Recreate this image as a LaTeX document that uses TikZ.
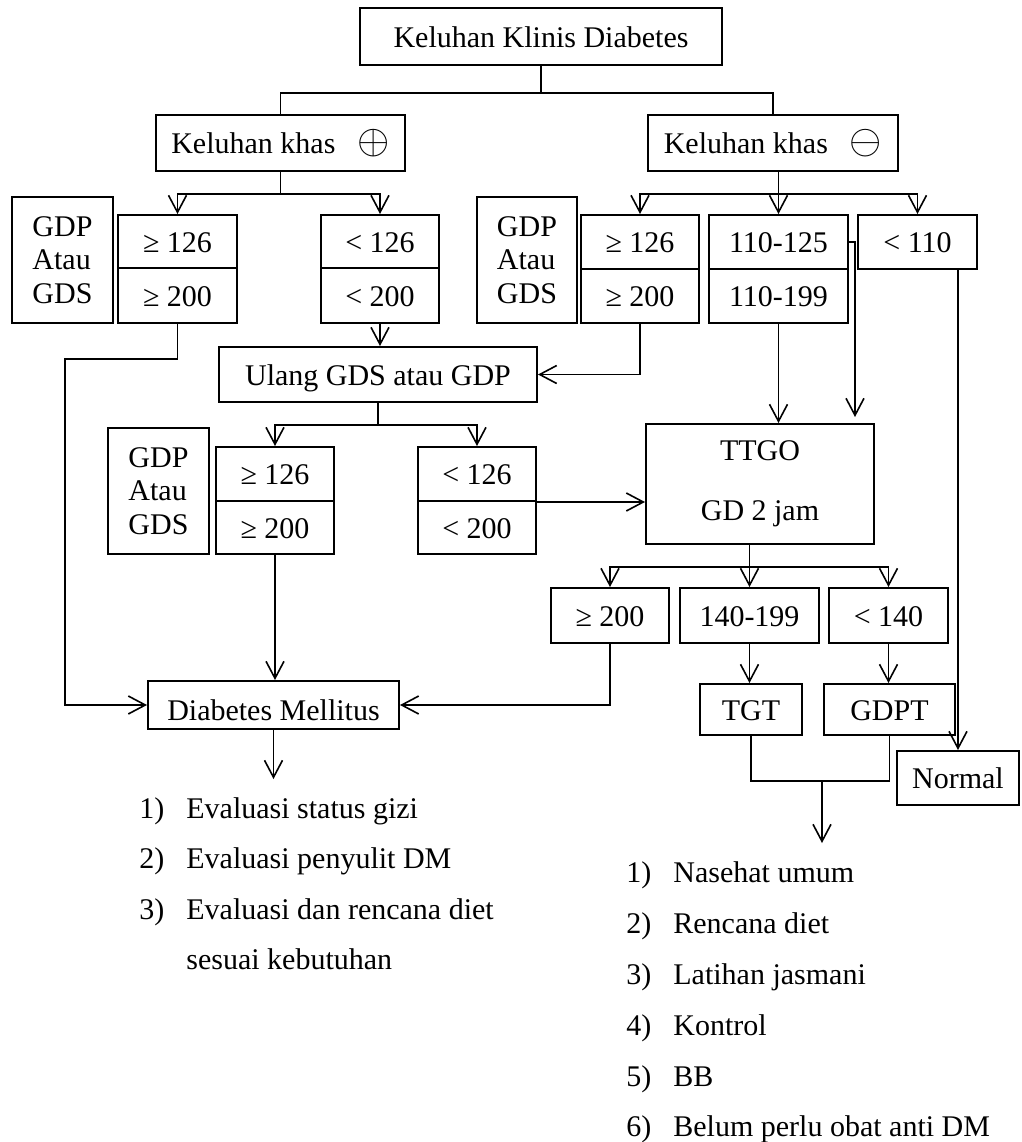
\documentclass[tikz,border=0pt]{standalone}
\usepackage{fontspec}
\setmainfont{Liberation Serif}
\usetikzlibrary{arrows.meta}
\newcommand{\numbox}[1]{\makebox[23.5pt][l]{#1}}
\newcommand{\circsym}[1]{{\fontsize{21}{21}\selectfont$#1$}}

\begin{document}
\begin{tikzpicture}[x=0.5pt, y=-0.5pt,
  >={Straight Barb[length=8.5pt,width=9pt]},
  font=\fontsize{15}{18}\selectfont,
  box/.style={draw, line width=1pt, inner sep=0pt, align=center},
  sbox/.style={box, text height=10.5pt, text depth=0pt},
  gdpbox/.style={box, align=left, minimum width=50.5pt, minimum height=63pt,
    font=\fontsize{15}{16.75}\selectfont},
  conn/.style={line width=0.8pt},
  arr/.style={conn, ->},
  item/.style={anchor=base west, inner sep=0pt}]
  \useasboundingbox (0,0) rectangle (1022,1142);

  \node[sbox, minimum width=181pt, minimum height=28.5pt] (top) at (541,36.5) {Keluhan Klinis Diabetes};
  \node[sbox, minimum width=124.5pt, minimum height=28pt] (khasP) at (280.5,143) {Keluhan khas\hspace{11pt}\circsym{\oplus}};
  \node[sbox, minimum width=125pt, minimum height=28pt] (khasN) at (773,143) {Keluhan khas\hspace{11pt}\circsym{\ominus}};

  % keluhan khas positif
  \node[gdpbox] (gdp1) at (62.5,260) {GDP\\Atau\\GDS};
  \node[sbox, minimum width=59.5pt, minimum height=26.5pt] (a1t) at (177.5,241.5) {≥ 126};
  \node[sbox, minimum width=59.5pt, minimum height=27.5pt] (a1b) at (177.5,295.5) {≥ 200};
  \node[sbox, minimum width=59pt, minimum height=26.5pt] (b1t) at (380,241.5) {< 126};
  \node[sbox, minimum width=59pt, minimum height=27.5pt] (b1b) at (380,295.5) {< 200};

  % keluhan khas negatif
  \node[gdpbox, minimum width=50pt] (gdp2) at (527,260) {GDP\\Atau\\GDS};
  \node[sbox, minimum width=59pt, minimum height=27pt] (a2t) at (640,242) {≥ 126};
  \node[sbox, minimum width=59pt, minimum height=27pt] (a2b) at (640,296) {≥ 200};
  \node[sbox, minimum width=69.5pt, minimum height=27pt] (c2t) at (778.5,242) {110-125};
  \node[sbox, minimum width=69.5pt, minimum height=27pt] (c2b) at (778.5,296) {110-199};
  \node[sbox, minimum width=59.5pt, minimum height=27pt] (d2) at (917.5,242) {< 110};

  % ulang
  \node[sbox, minimum width=159pt, minimum height=27.5pt] (ulang) at (378,374.5) {Ulang GDS atau GDP};
  \node[gdpbox] (gdp3) at (158.5,491) {GDP\\Atau\\GDS};
  \node[sbox, minimum width=59pt, minimum height=27pt] (a3t) at (275,474) {≥ 126};
  \node[sbox, minimum width=59pt, minimum height=26.5pt] (a3b) at (275,527.5) {≥ 200};
  \node[sbox, minimum width=59pt, minimum height=27pt] (b3t) at (477,474) {< 126};
  \node[sbox, minimum width=59pt, minimum height=26.5pt] (b3b) at (477,527.5) {< 200};

  % TTGO
  \node[box, minimum width=114pt, minimum height=60pt] (ttgo) at (760,484) {TTGO\\[12pt]GD 2 jam};
  \node[sbox, minimum width=59pt, minimum height=27.5pt] (g200) at (610,615.5) {≥ 200};
  \node[sbox, minimum width=69.5pt, minimum height=27.5pt] (g140) at (749.5,615.5) {140-199};
  \node[sbox, minimum width=59.5pt, minimum height=27.5pt] (l140) at (888.5,615.5) {< 140};
  \node[sbox, minimum width=51pt, minimum height=25.5pt] (tgt) at (751,709.5) {TGT};
  \node[sbox, minimum width=65.5pt, minimum height=25.5pt] (gdpt) at (889.5,709.5) {GDPT};
  \node[sbox, minimum width=61pt, minimum height=27pt] (normal) at (958,778) {Normal};
  \node[sbox, minimum width=125.5pt, minimum height=24pt, text height=15pt] (dm) at (273.5,705) {Diabetes Mellitus};

  % connectors
  \coordinate (j0) at (541,93);
  \draw[conn] (top.south) -- (j0);
  \draw[conn] (khasP.north) |- (j0) -| (khasN.north);
  \draw[conn] (khasP.south) -- ++(0,22) coordinate (j1);
  \draw[arr] (j1) -| (a1t.north);
  \draw[arr] (j1) -| (b1t.north);
  \draw[conn] (c2t.north |- khasN.south) -- ++(0,22) coordinate (j2);
  \draw[arr] (j2) -| (a2t.north);
  \draw[arr] (j2) -- (c2t.north);
  \draw[arr] (j2) -| (d2.north);

  \draw[arr] (a1b.south) |- (65,359) |- (dm.west);
  \draw[arr] (b1b.south) -- (b1b.south |- ulang.north);
  \draw[arr] (a2b.south) |- (ulang.east);
  \draw[conn] (ulang.south) -- ++(0,22) coordinate (j3);
  \draw[arr] (j3) -| (a3t.north);
  \draw[arr] (j3) -| (b3t.north);
  \draw[arr] (a3b.south) -- (a3b.south |- dm.north);
  \draw[arr] (b3t.south east) -- (b3t.south east -| ttgo.west);
  \draw[arr] (c2b.south) -- (c2b.south |- ttgo.north);
  \coordinate (k1) at (855,417);
  \draw[arr] (c2t.east) -| (k1);
  \draw[arr] (normal.north |- d2.south) -- (normal.north);

  \draw[conn] (g140.north |- ttgo.south) -- ++(0,22) coordinate (j4);
  \draw[arr] (j4) -| (g200.north);
  \draw[arr] (j4) -- (g140.north);
  \draw[arr] (j4) -| (l140.north);
  \draw[arr] (g200.south) |- (dm.east);
  \draw[arr] (g140.south) -- (g140.south |- tgt.north);
  \draw[arr] (l140.south) -- (l140.south |- gdpt.north);
  \coordinate (j5) at (822,781);
  \draw[conn] (tgt.south) |- (j5) -| (gdpt.south);
  \coordinate (endR) at (822,843);
  \draw[arr] (j5) -- (endR);
  \coordinate (endL) at (273.5,779);
  \draw[arr] (dm.south) -- (endL);

  % tindak lanjut
  \node[item] (e1) at (139,818) {\numbox{1)}Evaluasi status gizi};
  \node[item] (e2) at (139,868) {\numbox{2)}Evaluasi penyulit DM};
  \node[item] (e3) at (139,919) {\numbox{3)}Evaluasi dan rencana diet};
  \node[item] (e3b) at (186,969) {sesuai kebutuhan};

  \node[item] (n1) at (626,882) {\numbox{1)}Nasehat umum};
  \node[item] (n2) at (626,933) {\numbox{2)}Rencana diet};
  \node[item] (n3) at (626,984) {\numbox{3)}Latihan jasmani};
  \node[item] (n4) at (626,1035) {\numbox{4)}Kontrol};
  \node[item] (n5) at (626,1086) {\numbox{5)}BB};
  \node[item] (n6) at (626,1136) {\numbox{6)}Belum perlu obat anti DM};
\end{tikzpicture}
\end{document}
